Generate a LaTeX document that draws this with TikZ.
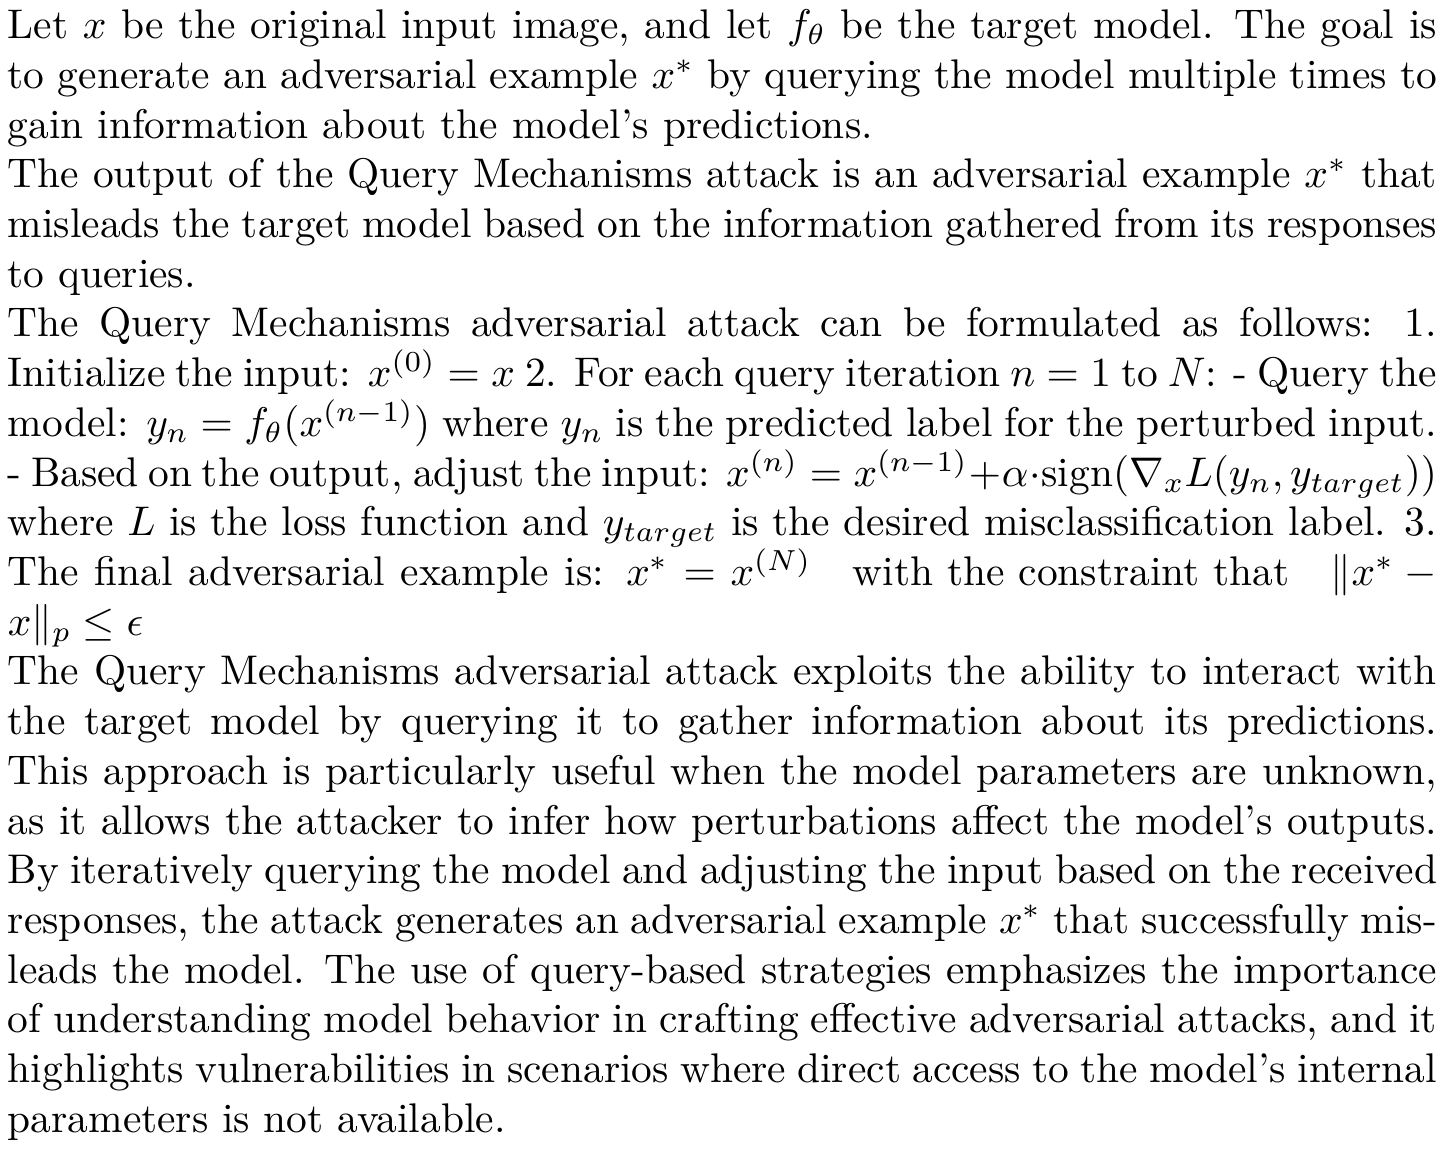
\documentclass[tikz,border=0pt]{standalone}
\usepackage{amsmath}
\begin{document}
\begin{tikzpicture}
\useasboundingbox (0,0) rectangle (349.8pt,-277.6pt);
\node[anchor=north west, inner sep=0pt, text width=345pt, align=justify] (body) at (1.7pt,-2.2pt) {%
\setlength{\parindent}{0pt}%
Let $x$ be the original input image, and let $f_\theta$ be the target model. The goal is to generate an adversarial example $x^*$ by querying the model multiple times to gain information about the model's predictions.\par
The output of the Query Mechanisms attack is an adversarial example $x^*$ that misleads the target model based on the information gathered from its responses to queries.\par
The Query Mechanisms adversarial attack can be formulated as follows: 1. Initialize the input: $x^{(0)} = x$ 2. For each query iteration $n = 1$ to $N$: - Query the model: $y_n = f_\theta(x^{(n-1)})$ where $y_n$ is the predicted label for the perturbed input. - Based on the output, adjust the input: $x^{(n)} = x^{(n-1)} + \alpha \cdot \text{sign}(\nabla_x L(y_n, y_{target}))$ where $L$ is the loss function and $y_{target}$ is the desired misclassification label. 3. The final adversarial example is: $x^* = x^{(N)} \quad \text{with the constraint that} \quad \|x^* - x\|_p \leq \epsilon$\par
The Query Mechanisms adversarial attack exploits the ability to interact with the target model by querying it to gather information about its predictions. This approach is particularly useful when the model parameters are unknown, as it allows the attacker to infer how perturbations affect the model's outputs. By iteratively querying the model and adjusting the input based on the received responses, the attack generates an adversarial example $x^*$ that successfully misleads the model. The use of query-based strategies emphasizes the importance of understanding model behavior in crafting effective adversarial attacks, and it highlights vulnerabilities in scenarios where direct access to the model's internal parameters is not available.};
\end{tikzpicture}
\end{document}
